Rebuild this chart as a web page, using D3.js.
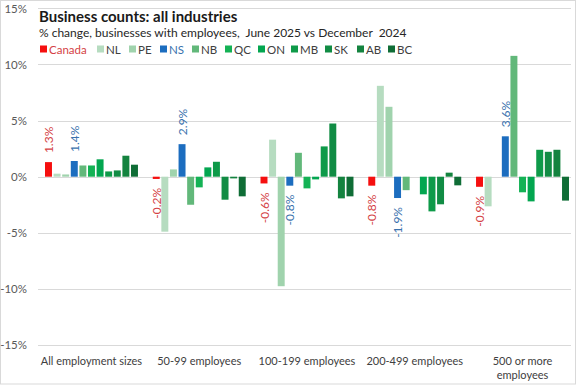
<!DOCTYPE html>
<html>
<head>
<meta charset="utf-8">
<script src="https://cdn.jsdelivr.net/npm/d3@7"></script>
<style>
  body { margin: 0; background: #fff; }
  svg { display: block; font-family: Lato, 'Noto Sans', sans-serif; }
</style>
</head>
<body>
<script>
const categories = ['All employment sizes', '50-99 employees', '100-199 employees', '200-499 employees', '500 or more employees'];
const seriesNames = ['Canada', 'NL', 'PE', 'NS', 'NB', 'QC', 'ON', 'MB', 'SK', 'AB', 'BC'];
const seriesColors = ['#f50f0f', '#b6dcc0', '#a0d3ad', '#1c6dbf', '#62b87a', '#14b255', '#03a650', '#0e9a49', '#118c44', '#14833f', '#0f6d36'];

const canada = [1.3, -0.2, -0.6, -0.8, -0.9];
const nl = [0.27, -4.9, 3.3, 8.1, -2.64];
const pe = [0.2, 0.65, -9.76, 6.23, 0];
const ns = [1.4, 2.9, -0.8, -1.9, 3.6];
const nb = [1.0, -2.5, 2.13, -1.2, 10.77];
const qc = [1.0, -0.95, -1.04, 0, -1.39];
const on = [1.55, 0.83, -0.24, -1.57, -2.2];
const mb = [0.47, 1.33, 2.7, -3.09, 2.4];
const sk = [0.56, -2.05, 4.74, -2.46, 2.22];
const ab = [1.87, -0.15, -1.93, 0.36, 2.4];
const bc = [1.07, -1.75, -1.75, -0.77, -2.13];
const seriesValues = [canada, nl, pe, ns, nb, qc, on, mb, sk, ab, bc];

const yTicks = [15, 10, 5, 0, -5, -10, -15];
const labelledSeries = { Canada: '#d43f45', NS: '#3a72ad' };

const width = 576;
const height = 385;

const svg = d3.select('body')
              .append('svg')
              .attr('width', width)
              .attr('height', height);

// chart frame
svg.append('rect')
   .attr('x', 0.5).attr('y', 0.5)
   .attr('width', width - 1).attr('height', height - 1.5)
   .attr('fill', '#fff')
   .attr('stroke', '#d9d9d9');

// scales
const yScale = d3.scaleLinear().domain([-15, 15]).range([345, 8.4]);
const x0 = d3.scaleBand().domain(categories).range([37.6, 576.4]).padding(0);
const x1 = d3.scaleBand()
             .domain(seriesNames)
             .range([7.4, x0.bandwidth() - 7.4])
             .paddingInner(0.19)
             .paddingOuter(0);

// gridlines
svg.append('g')
   .selectAll('line')
   .data(yTicks)
   .enter()
   .append('line')
   .attr('x1', 38).attr('x2', 571)
   .attr('y1', (d) => Math.round(yScale(d)) + 0.5)
   .attr('y2', (d) => Math.round(yScale(d)) + 0.5)
   .attr('stroke', '#d9d9d9')
   .attr('stroke-width', 1);

// y labels
const yAxis = d3.axisLeft(yScale).tickValues(yTicks).tickSize(0).tickPadding(0).tickFormat((d) => d + '%');
const yG = svg.append('g')
   .attr('transform', 'translate(27,0)')
   .call(yAxis);
yG.select('.domain').remove();
yG.selectAll('text').attr('font-size', 11.5).attr('fill', '#595959').attr('font-family', 'Lato, sans-serif');

// bars
const rows = [];
categories.forEach((c, ci) => {
  seriesNames.forEach((s, si) => {
    rows.push({ cat: c, series: s, value: seriesValues[si][ci], color: seriesColors[si] });
  });
});

svg.append('g')
   .selectAll('rect')
   .data(rows)
   .enter()
   .append('rect')
   .attr('x', (d) => x0(d.cat) + x1(d.series))
   .attr('width', x1.bandwidth())
   .attr('y', (d) => yScale(Math.max(0, d.value)))
   .attr('height', (d) => Math.abs(yScale(d.value) - yScale(0)))
   .attr('fill', (d) => d.color);

// data labels for Canada and NS
svg.append('g')
   .selectAll('text')
   .data(rows.filter((d) => labelledSeries[d.series]))
   .enter()
   .append('text')
   .attr('transform', (d) => {
     const cx = x0(d.cat) + x1(d.series) + x1.bandwidth() / 2;
     const cy = d.value >= 0 ? yScale(d.value) - 9 : yScale(d.value) + 9;
     return 'translate(' + cx + ',' + cy + ') rotate(-90)';
   })
   .attr('text-anchor', (d) => d.value >= 0 ? 'start' : 'end')
   .attr('dominant-baseline', 'central')
   .attr('font-size', 12)
   .attr('fill', (d) => labelledSeries[d.series])
   .text((d) => d.value.toFixed(1) + '%');

// category labels
const catLabels = svg.append('g')
   .selectAll('text')
   .data(categories)
   .enter()
   .append('text')
   .attr('x', (d) => x0(d) + x0.bandwidth() / 2)
   .attr('y', 365)
   .attr('text-anchor', 'middle')
   .attr('font-size', 11)
   .attr('fill', '#404040');

catLabels.each(function(d) {
  const el = d3.select(this);
  if (d === '500 or more employees') {
    el.append('tspan').attr('x', el.attr('x')).attr('dy', 0).text('500 or more');
    el.append('tspan').attr('x', el.attr('x')).attr('dy', 13.5).text('employees');
  } else {
    el.text(d);
  }
});

// title and subtitle
svg.append('text')
   .attr('x', 39).attr('y', 22)
   .attr('font-size', 15)
   .attr('font-weight', 'bold')
   .attr('fill', '#1a1a1a')
   .text('Business counts: all industries');

svg.append('text')
   .attr('x', 39).attr('y', 37)
   .attr('font-size', 12)
   .attr('fill', '#262626')
   .attr('xml:space', 'preserve')
   .style('white-space', 'pre')
   .text('% change, businesses with employees,  June 2025 vs December  2024');

// legend
const legendX = [40, 97, 129, 160, 192, 225, 258, 291, 325, 357, 388];
const legend = svg.append('g')
   .selectAll('g')
   .data(seriesNames)
   .enter()
   .append('g')
   .attr('transform', (d, i) => 'translate(' + legendX[i] + ',49)');

legend.append('rect')
      .attr('x', 0).attr('y', -3.5)
      .attr('width', 7).attr('height', 7)
      .attr('fill', (d, i) => seriesColors[i]);

legend.append('text')
      .attr('x', 9).attr('y', 0.5)
      .attr('dominant-baseline', 'central')
      .attr('font-size', 11.5)
      .attr('fill', (d) => d === 'Canada' ? '#d43f45' : (d === 'NS' ? '#3a72ad' : '#404040'))
      .text((d) => d);
</script>
</body>
</html>
